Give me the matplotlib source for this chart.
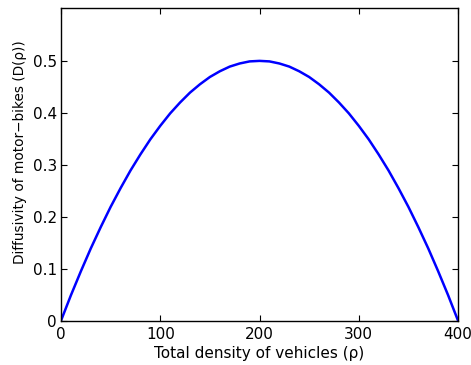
import numpy as np
import matplotlib.pyplot as plt

plt.rcParams['font.family'] = ['DejaVu Sans']

# diffusivity read along the total density axis
rho = [0, 10, 20, 30, 40, 50, 60, 70, 80, 90, 100,
       110, 120, 130, 140, 150, 160, 170, 180, 190, 200,
       210, 220, 230, 240, 250, 260, 270, 280, 290, 300,
       310, 320, 330, 340, 350, 360, 370, 380, 390, 400]
diff = [0, 0.049, 0.095, 0.139, 0.18, 0.219, 0.255, 0.289, 0.32, 0.349, 0.375,
        0.399, 0.42, 0.439, 0.455, 0.469, 0.48, 0.489, 0.495, 0.499, 0.5,
        0.499, 0.495, 0.489, 0.48, 0.469, 0.455, 0.439, 0.42, 0.399, 0.375,
        0.349, 0.32, 0.289, 0.255, 0.219, 0.18, 0.139, 0.095, 0.049, 0]
xticks = [0, 100, 200, 300, 400]
yticks = [0, 0.1, 0.2, 0.3, 0.4, 0.5]

fig = plt.figure(figsize=(4.71, 3.65), dpi=100)
ax = fig.add_axes([0.1295, 0.1214, 0.843, 0.857])

ax.plot(rho, diff, color='#0000ff', linewidth=1.8, solid_joinstyle='round')

ax.set_xlim(0, 400)
ax.set_ylim(0, 0.602)
ax.set_xticks(xticks)
ax.set_yticks(yticks)
ax.set_yticklabels(['0', '0.1', '0.2', '0.3', '0.4', '0.5'])
ax.tick_params(direction='in', top=True, right=True, length=4, width=0.8,
               labelsize=11)
ax.tick_params(axis='x', pad=4.5)
ax.tick_params(axis='y', pad=3)
for s in ax.spines.values():
    s.set_linewidth(1.0)

ax.set_xlabel('Total density of vehicles (\u03c1)', fontsize=11, labelpad=3)
ax.set_ylabel('Diffusivity of motor\u2212bikes (D(\u03c1))', fontsize=9.8)
ax.yaxis.set_label_coords(-0.086, 0.54)

fig.savefig('out.png', dpi=100)
